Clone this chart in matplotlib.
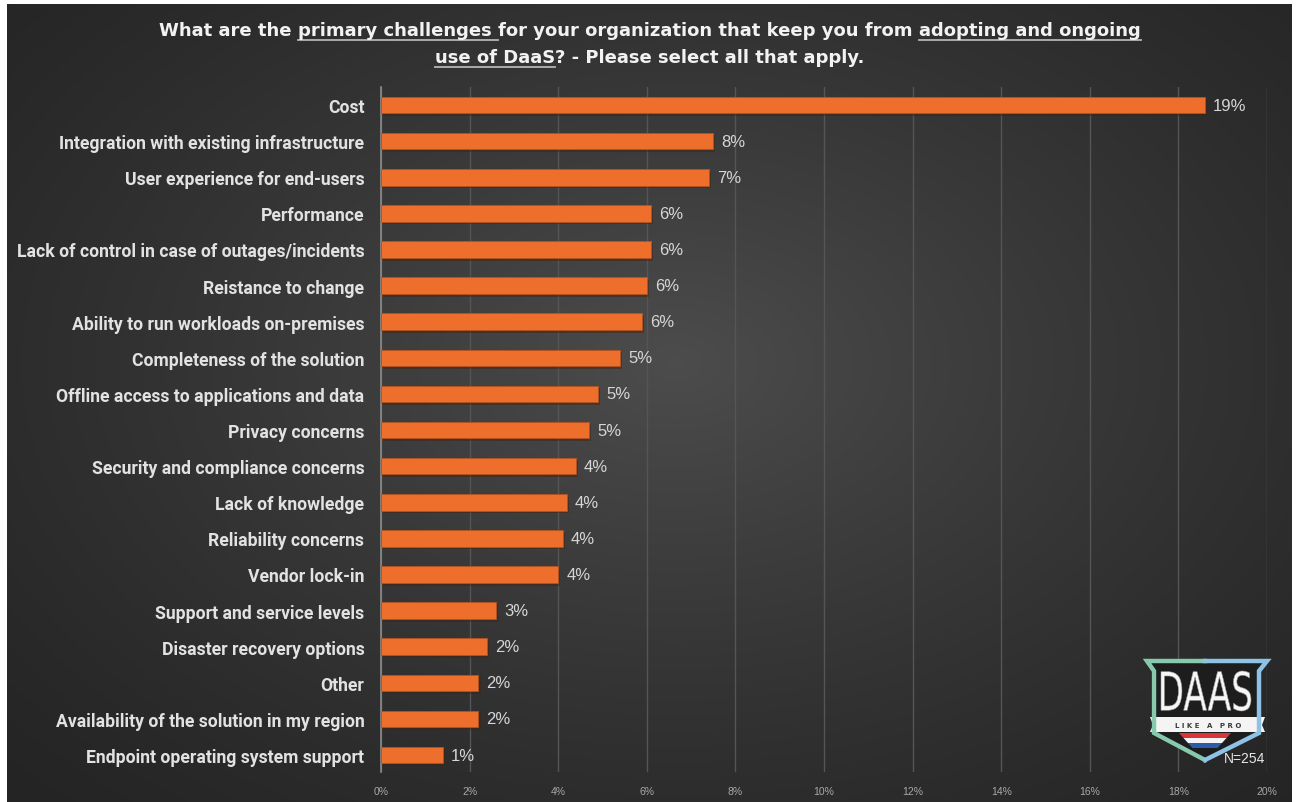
import numpy as np
import matplotlib
matplotlib.use("Agg")
import matplotlib.pyplot as plt
import matplotlib.patheffects as pe
from matplotlib.patches import Polygon, PathPatch
from matplotlib.textpath import TextPath
from matplotlib.font_manager import FontProperties
from matplotlib.transforms import Affine2D

# Survey responses (share of all selections, %)
challenges = [
    "Cost",
    "Integration with existing infrastructure",
    "User experience for end-users",
    "Performance",
    "Lack of control in case of outages/incidents",
    "Reistance to change",
    "Ability to run workloads on-premises",
    "Completeness of the solution",
    "Offline access to applications and data",
    "Privacy concerns",
    "Security and compliance concerns",
    "Lack of knowledge",
    "Reliability concerns",
    "Vendor lock-in",
    "Support and service levels",
    "Disaster recovery options",
    "Other",
    "Availability of the solution in my region",
    "Endpoint operating system support",
]
shares = [18.6, 7.5, 7.4, 6.1, 6.1, 6.0, 5.9, 5.4, 4.9, 4.7, 4.4, 4.2, 4.1, 4.0,
          2.6, 2.4, 2.2, 2.2, 1.4]
x_ticks = list(range(0, 21, 2))
sample_size = 254

W, H = 1297, 803
fig = plt.figure(figsize=(W / 100, H / 100), dpi=100, facecolor="white")

# background panel with a soft radial shading
bg = fig.add_axes([0, 0, 1, 1], zorder=0)
bg.set_xlim(0, W)
bg.set_ylim(H, 0)
bg.axis("off")
gx, gy = np.meshgrid(np.linspace(0, 1, 400), np.linspace(0, 1, 250))
r = np.sqrt(((gx - 0.52) / 0.75) ** 2 + ((gy - 0.45) / 0.8) ** 2)
shade = np.clip(1 - r, 0, 1) ** 1.3
lo, hi = 0.14, 0.30
img = lo + (hi - lo) * shade
bg.imshow(np.dstack([img, img, img]), extent=(7, 1292, 803, 5), aspect="auto",
          interpolation="bilinear")

# main bar chart
ax = fig.add_axes([381 / W, 1 - 773 / H, (1267 - 381) / W, (773 - 88) / H], zorder=1)
ax.set_facecolor("none")
ypos = np.arange(len(challenges))
bars = ax.barh(ypos, shares, height=0.46, color="#EE6E2C", edgecolor="#B4531F",
               linewidth=0.6, zorder=3)
for b in bars:
    b.set_path_effects([pe.SimplePatchShadow(offset=(1.5, -2), alpha=0.45),
                        pe.Normal()])
for y, v in zip(ypos, shares):
    ax.text(v + 0.18, y, f"{v:.0f}%", va="center", ha="left", fontsize=12,
            color="#d6d6d6", family="Liberation Sans")

ax.set_xlim(0, 20)
ax.set_ylim(len(challenges) - 0.53, -0.5)
ax.set_xticks(x_ticks)
ax.set_xticklabels([f"{t}%" for t in x_ticks], fontsize=7.5, color="#a8a8a8",
                   family="Liberation Sans")
ax.set_yticks(ypos)
ax.set_yticklabels(challenges, fontsize=12.7, color="#e2e2e2", fontweight="bold",
                   family="Roboto")
ax.tick_params(axis="both", length=0)
ax.tick_params(axis="y", pad=12)
ax.tick_params(axis="x", pad=10)
ax.grid(axis="x", color="#555555", linewidth=1, zorder=0)
for s in ["top", "right", "bottom"]:
    ax.spines[s].set_visible(False)
ax.spines["left"].set_color("#8c8c8c")
ax.spines["left"].set_linewidth(1.2)

# title, with underlined phrases
renderer = fig.canvas.get_renderer()
title_lines = [
    [("What are the ", False), ("primary challenges ", True),
     ("for your organization that keep you from ", False),
     ("adopting and ongoing", True)],
    [("use of DaaS", True), ("? - Please select all that apply.", False)],
]
title_y = [31, 58]
tprops = dict(fontsize=13, fontweight="bold", color="#f2f2f2", family="DejaVu Sans")


def seg_width(s):
    probe = fig.text(0, 0, "|" + s + "|", **tprops)
    bar_only = fig.text(0, 0, "||", **tprops)
    w = probe.get_window_extent(renderer).width - bar_only.get_window_extent(renderer).width
    probe.remove()
    bar_only.remove()
    return w


for line, yy in zip(title_lines, title_y):
    widths = [seg_width(s) for s, _ in line]
    x = 650 - sum(widths) / 2
    for (s, under), w in zip(line, widths):
        fig.text(x / W, 1 - yy / H, s, va="center", ha="left", **tprops)
        if under:
            bg.plot([x, x + w], [yy + 10, yy + 10], color="#b5b5b5", lw=1.3)
        x += w

# badge in the lower right corner
logo = fig.add_axes([0, 0, 1, 1], zorder=5)
logo.set_xlim(0, W)
logo.set_ylim(H, 0)
logo.axis("off")
logo.set_facecolor("none")

shield = [(1147, 662), (1267, 662), (1260, 672), (1260, 736), (1205, 763),
          (1151, 736), (1151, 672)]
logo.add_patch(Polygon(shield, closed=True, facecolor="#1d1d1d",
                       edgecolor="none"))
left_edge = [(1205, 662), (1147, 662), (1154, 672), (1154, 734), (1205, 761)]
right_edge = [(1205, 662), (1267, 662), (1259, 672), (1259, 734), (1205, 761)]
logo.plot(*zip(*left_edge), color="#86c9ad", lw=3.2, solid_joinstyle="miter")
logo.plot(*zip(*right_edge), color="#8ec3e6", lw=3.2, solid_joinstyle="miter")

# flag stripes under the banner
stripe_rows = [("#d9343a", 734, 739), ("#f4f4f4", 739, 744), ("#2b5ca8", 744, 749)]
for col, y0, y1 in stripe_rows:
    def half(y):
        return 26 - (y - 734) * 0.9
    logo.add_patch(Polygon([(1205 - half(y0), y0), (1205 + half(y0), y0),
                            (1205 + half(y1), y1), (1205 - half(y1), y1)],
                           closed=True, facecolor=col, edgecolor="none"))

# banner
logo.add_patch(Polygon([(1150, 718), (1265, 718), (1262, 726), (1265, 733),
                        (1150, 733), (1153, 726)], closed=True,
                       facecolor="#f4f4f4", edgecolor="none"))
logo.text(1208, 726, "L I K E   A   P R O", ha="center", va="center",
          fontsize=5, fontweight="bold", color="#3a3a3a", family="DejaVu Sans")

# condensed "DAAS" lettering fitted into its box
tp = TextPath((0, 0), "DAAS", size=1, prop=FontProperties(family="DejaVu Sans"))
ext = tp.get_extents()
bx0, bx1, by_top, by_bot = 1161, 1251, 672, 712
sx = (bx1 - bx0) / ext.width
sy = (by_bot - by_top) / ext.height
tr = Affine2D().translate(-ext.x0, -ext.y0).scale(sx, -sy).translate(bx0, by_bot)
logo.add_patch(PathPatch(tr.transform_path(tp), facecolor="#f6f6f6",
                         edgecolor="#9a9a9a", lw=0.4))

logo.text(1245, 759, f"N={sample_size}", ha="center", va="center", fontsize=10,
          color="#e6e6e6", family="Liberation Sans")

fig.savefig("out.png", dpi=100, facecolor="white")
